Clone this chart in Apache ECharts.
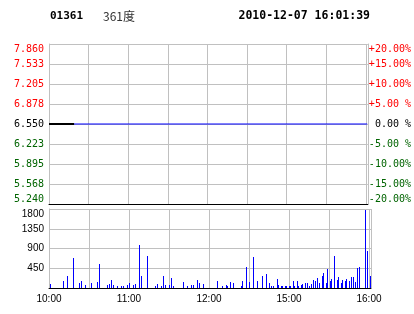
<!DOCTYPE html>
<html><head><meta charset="utf-8">
<script src="https://cdn.jsdelivr.net/npm/echarts@6/dist/echarts.min.js"></script>
<style>html,body{margin:0;padding:0;background:#fff}#c{width:414px;height:314px}</style>
</head><body><div id="c"></div>
<script>
// ---- data ----
var stockCode = '01361';
var stockName = '361度';
var timestamp = '2010-12-07 16:01:39';
// left tick labels (top to bottom) and right percent labels (top to bottom)
var priceTickLabels = ['7.860','7.533','7.205','6.878','6.550','6.223','5.895','5.568','5.240'];
var pctTickLabels = ['+20.00%','+15.00%','+10.00%','+5.00 %',' 0.00 %','-5.00 %','-10.00%','-15.00%','-20.00%'];
var volTickLabels = ['0','450','900','1350','1800'];
var timeTickMinutes = [0, 60, 120, 180, 240];
var timeTickLabels = ['10:00','11:00','12:00','15:00','16:00'];
// price line (minutes from open, price)
var priceMinutes = [0, 241];
var prices = [6.55, 6.55];
// average price line
var avgMinutes = [0, 19];
var avgPrices = [6.55, 6.55];
// volume bars
var volMinutes = [1,11,14,18,23,24,27,32,36,38,44,45,47,48,51,54,56,59,60,63,65,68,69,74,80,81,84,86,87,90,92,93,101,104,107,108,111,113,116,126,130,133,134,136,138,144,145,148,150,153,156,160,163,165,167,168,171,172,174,175,177,178,180,181,183,184,186,187,189,190,192,194,195,197,198,200,201,203,205,206,208,209,211,212,214,216,217,219,220,222,223,225,227,228,230,231,233,237,239,241];
var volumes = [100,167,281,692,122,167,60,122,144,555,60,100,190,76,53,53,53,76,122,76,100,988,281,737,53,100,53,281,60,76,236,53,144,53,76,76,190,122,100,167,53,76,53,144,122,53,167,486,144,714,167,281,327,122,53,53,213,76,53,53,53,53,53,53,167,53,167,53,76,100,122,122,53,100,190,167,236,122,281,350,122,441,167,213,737,190,258,122,190,167,213,167,258,258,144,464,486,1770,851,281];

function zip(a, b) { return a.map(function (v, i) { return [v, b[i]]; }); }
function styleKey(i) { return i < 4 ? 'g' : (i === 4 ? 'k' : 'r'); } // index from bottom
var pLabelsBottomUp = priceTickLabels.slice().reverse();
var pctBottomUp = pctTickLabels.slice().reverse();
var rich = {
  r: {color: '#ff0000', fontFamily: 'DejaVu Sans Mono', fontSize: 10},
  k: {color: '#000000', fontFamily: 'DejaVu Sans Mono', fontSize: 10},
  g: {color: '#006400', fontFamily: 'DejaVu Sans Mono', fontSize: 10}
};
var gridColor = '#c0c0c0';

var chart = echarts.init(document.getElementById('c'), null, {renderer: 'canvas'});
chart.setOption({
  animation: false,
  backgroundColor: '#ffffff',
  graphic: [
    {type: 'text', style: {x: 50, y: 16, text: stockCode, font: 'bold 11px "DejaVu Sans Mono"', fill: '#000', verticalAlign: 'middle', align: 'left'}},
    {type: 'text', style: {x: 103, y: 16, text: stockName, font: '12px "Noto Sans CJK SC"', fill: '#333', verticalAlign: 'middle', align: 'left'}},
    {type: 'text', style: {x: 370, y: 16, text: timestamp, font: 'bold 11.5px "DejaVu Sans Mono"', fill: '#000', verticalAlign: 'middle', align: 'right'}}
  ],
  grid: [
    {left: 49, top: 44, width: 322, height: 160},
    {left: 49, top: 209, width: 322, height: 79}
  ],
  xAxis: [
    {type: 'value', gridIndex: 0, min: 0, max: 241.5, interval: 30, z: 1,
      axisLine: {show: true, onZero: false, lineStyle: {color: '#000', width: 1}}, axisTick: {show: false}, axisLabel: {show: false},
      splitLine: {show: true, lineStyle: {color: gridColor, width: 1}}},
    {type: 'value', gridIndex: 1, min: 0, max: 241.5, interval: 30, z: 1,
      axisLine: {show: true, onZero: false, lineStyle: {color: '#000', width: 1}}, axisTick: {show: false},
      axisLabel: {show: true, margin: 6, color: '#000', fontFamily: 'Liberation Sans', fontSize: 10,
        showMinLabel: true, showMaxLabel: true, hideOverlap: false,
        formatter: function (v) { var i = timeTickMinutes.indexOf(v); return i >= 0 ? timeTickLabels[i] : ''; }},
      splitLine: {show: true, lineStyle: {color: gridColor, width: 1}}}
  ],
  yAxis: [
    {type: 'value', gridIndex: 0, min: 5.24, max: 7.86, show: false},
    {type: 'value', gridIndex: 0, position: 'left', min: -20, max: 20, interval: 5,
      axisLine: {show: true, onZero: false, lineStyle: {color: gridColor}}, axisTick: {show: false},
      splitLine: {show: true, showMinLine: false, lineStyle: {color: gridColor, width: 1}},
      axisLabel: {margin: 5, verticalAlignMaxLabel: 'top', verticalAlignMinLabel: 'bottom', rich: rich,
        formatter: function (v, i) { return '{' + styleKey(i) + '|' + pLabelsBottomUp[i] + '}'; }}},
    {type: 'value', gridIndex: 0, position: 'right', min: -20, max: 20, interval: 5,
      axisLine: {show: true, onZero: false, lineStyle: {color: gridColor}}, axisTick: {show: false}, splitLine: {show: false},
      axisLabel: {margin: 1, align: 'left', verticalAlignMaxLabel: 'top', verticalAlignMinLabel: 'bottom', rich: rich,
        formatter: function (v, i) { return '{' + styleKey(i) + '|' + pctBottomUp[i] + '}'; }}},
    {type: 'value', gridIndex: 1, min: 0, max: 1800, interval: 450,
      axisLine: {show: true, onZero: false, lineStyle: {color: gridColor}}, axisTick: {show: false},
      splitLine: {show: true, showMinLine: false, lineStyle: {color: gridColor, width: 1}},
      axisLabel: {margin: 5, color: '#000', fontFamily: 'Liberation Sans', fontSize: 10, verticalAlignMaxLabel: 'top',
        formatter: function (v, i) { return i === 0 ? '' : volTickLabels[i]; }}}
  ],
  series: [
    {type: 'line', xAxisIndex: 0, yAxisIndex: 0, data: zip(priceMinutes, prices), showSymbol: false, symbol: 'none',
      lineStyle: {color: '#0000ff', width: 1}, z: 3},
    {type: 'line', xAxisIndex: 0, yAxisIndex: 0, data: zip(avgMinutes, avgPrices), showSymbol: false, symbol: 'none',
      lineStyle: {color: '#000000', width: 2}, z: 4},
    {type: 'custom', xAxisIndex: 1, yAxisIndex: 3, data: zip(volMinutes, volumes), z: 3,
      encode: {x: 0, y: 1},
      renderItem: function (params, api) {
        var top = api.coord([api.value(0), api.value(1)]);
        var base = api.coord([api.value(0), 0]);
        var x = Math.round(top[0] - 0.5);
        var y0 = Math.round(top[1]);
        var y1 = Math.round(base[1]);
        return {type: 'rect', shape: {x: x, y: y0, width: 1, height: y1 - y0}, style: {fill: '#0000ff'}};
      }}
  ]
});
</script></body></html>
